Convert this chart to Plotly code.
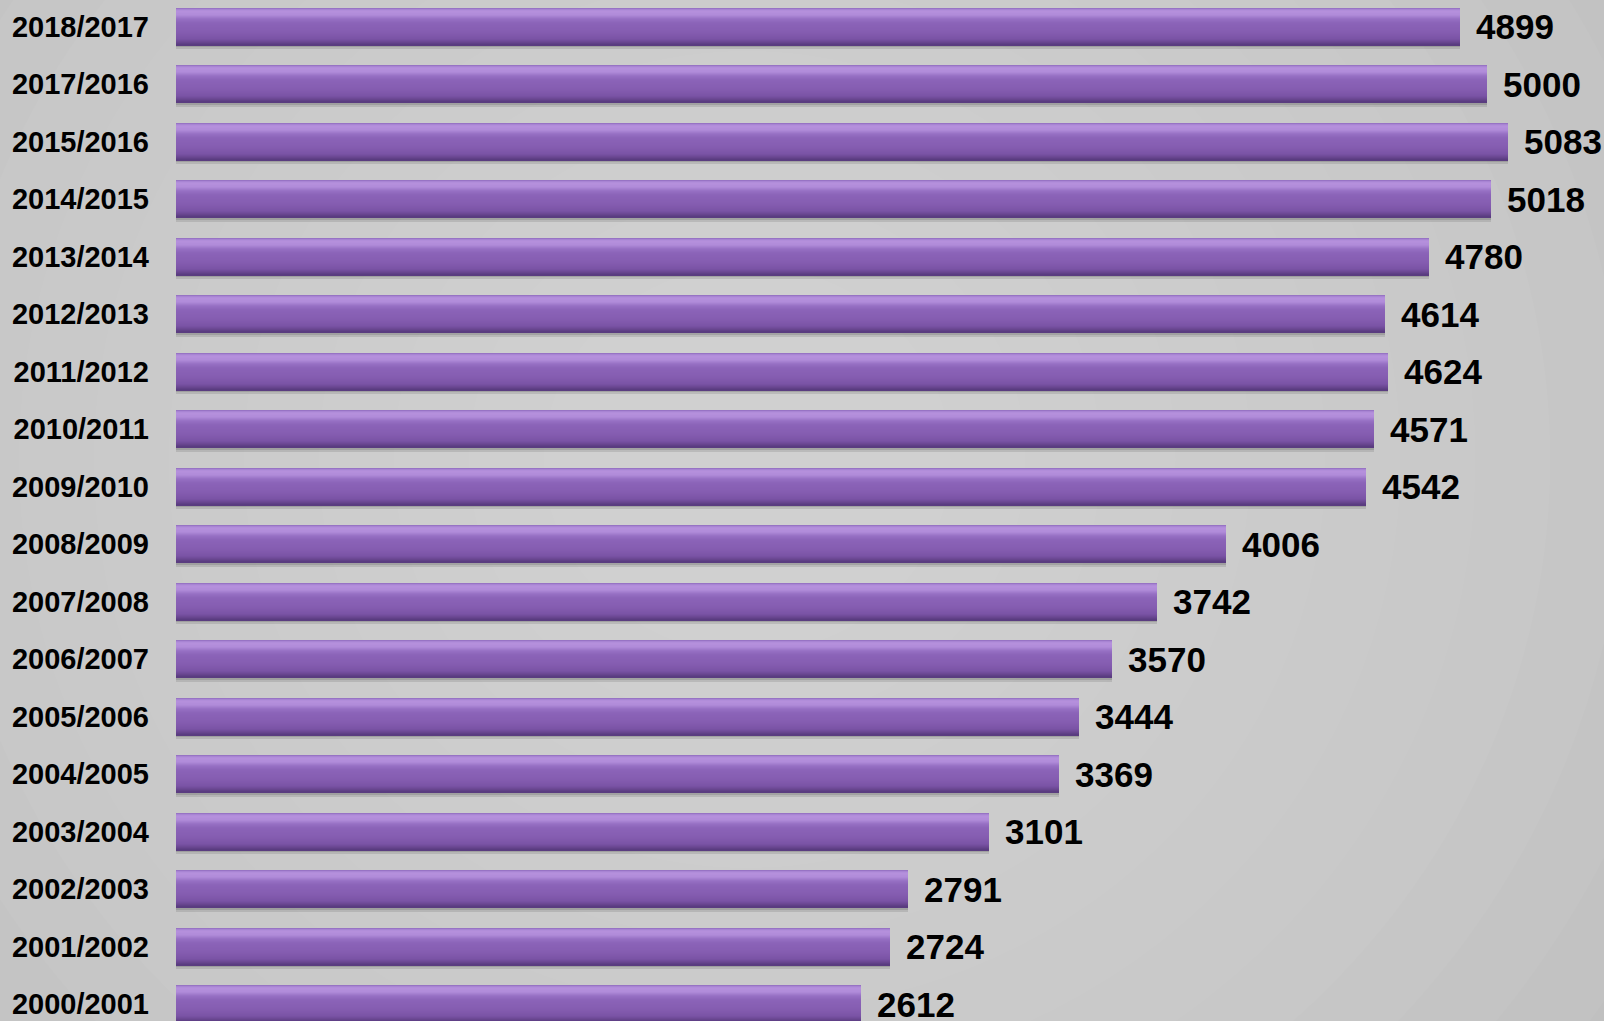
import plotly.graph_objects as go

# ---------------- data ----------------
categories = ["2018/2017", "2017/2016", "2015/2016", "2014/2015", "2013/2014",
              "2012/2013", "2011/2012", "2010/2011", "2009/2010", "2008/2009",
              "2007/2008", "2006/2007", "2005/2006", "2004/2005", "2003/2004",
              "2002/2003", "2001/2002", "2000/2001"]
values = [4899, 5000, 5083, 5018, 4780, 4614, 4624, 4571, 4542, 4006,
          3742, 3570, 3444, 3369, 3101, 2791, 2724, 2612]

# ---------------- geometry ----------------
W, H = 1604, 1021
PX_PER_CAT = 57.5          # vertical pitch of categories, px
PX_PER_VAL = 0.2621        # px per value unit
LEFT = 176
BAR_PX = 37.0
BW = BAR_PX / PX_PER_CAT   # bar width in category units

n = len(categories)
y_top = (n - 1) + 26.5 / PX_PER_CAT
y_bot = y_top - H / PX_PER_CAT
x_max = (W - LEFT) / PX_PER_VAL

fig = go.Figure()

def band(depth_px, height_px, color):
    off = BW / 2 - (depth_px + height_px) / PX_PER_CAT
    wid = height_px / PX_PER_CAT
    fig.add_trace(go.Bar(
        x=values, y=categories, orientation="h",
        width=[wid] * n, offset=[off] * n,
        marker=dict(color=color, line=dict(width=0)),
        hoverinfo="skip", showlegend=False,
    ))

def hex2rgb(h):
    h = h.lstrip("#")
    return tuple(int(h[i:i + 2], 16) for i in (0, 2, 4))

# vertical colour profile of the glossy bar (depth px from top, colour)
stops = [(0, "#8f6abd"), (1.5, "#a884d3"), (3, "#b691dd"), (7, "#b08bd9"),
         (11, "#9670c3"), (15, "#8b63b8"), (24, "#855db1"), (31, "#7a53a5"),
         (34, "#6a4792"), (37, "#573a7c")]

def color_at(d):
    for (d0, c0), (d1, c1) in zip(stops, stops[1:]):
        if d0 <= d <= d1:
            t = (d - d0) / (d1 - d0) if d1 > d0 else 0
            a, b = hex2rgb(c0), hex2rgb(c1)
            return "rgb(%d,%d,%d)" % tuple(round(a[i] + (b[i] - a[i]) * t) for i in range(3))
    return stops[-1][1]

# drop shadow
band(36, 3, "rgba(60,60,60,0.30)")
band(39, 2, "rgba(60,60,60,0.15)")
# bar body from thin slices
step = 1.0
d = 0.0
while d < BAR_PX - 1e-9:
    h = min(step, BAR_PX - d)
    band(d, h + 0.15, color_at(d + h / 2))
    d += step

# value labels
annotations = []
for c, v in zip(categories, values):
    annotations.append(dict(
        x=v, y=c, xref="x", yref="y", text=str(v), showarrow=False,
        xanchor="left", yanchor="middle", xshift=14,
        font=dict(family="Liberation Sans, Arial, sans-serif", size=35,
                  color="#000000", weight="bold"),
    ))

# soft background lighting
shapes = []
cx, cy = 0.40, 0.55
for i in range(14):
    r = 1.1 - i * 0.07
    shapes.append(dict(
        type="circle", xref="paper", yref="paper", layer="below",
        x0=cx - r * 0.75, x1=cx + r * 0.75, y0=cy - r, y1=cy + r,
        fillcolor="rgba(255,255,255,0.035)", line=dict(width=0),
    ))

fig.update_layout(
    width=W, height=H,
    margin=dict(l=LEFT, r=0, t=0, b=0, pad=0),
    paper_bgcolor="#bcbcbc",
    plot_bgcolor="rgba(0,0,0,0)",
    barmode="overlay",
    bargap=0,
    showlegend=False,
    annotations=annotations,
    shapes=shapes,
    xaxis=dict(range=[0, x_max], visible=False, showgrid=False, zeroline=False),
    yaxis=dict(
        type="category",
        categoryorder="array",
        categoryarray=list(reversed(categories)),
        range=[y_bot, y_top],
        showgrid=False, zeroline=False, showline=False,
        ticks="", ticklabelstandoff=26,
        tickfont=dict(family="Liberation Sans, Arial, sans-serif", size=29,
                      color="#000000", weight="bold"),
    ),
)

fig.write_html("out.html", config={"displayModeBar": False})

with open("out.html", "r", encoding="utf-8") as f:
    html = f.read()
html = html.replace("<head>", "<head><style>html,body{margin:0;padding:0;overflow:hidden;}</style>", 1)
with open("out.html", "w", encoding="utf-8") as f:
    f.write(html)
